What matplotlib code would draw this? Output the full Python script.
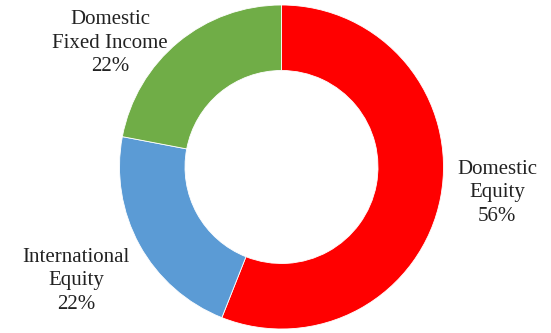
import matplotlib.pyplot as plt

labels = ['Domestic\nEquity', 'International\nEquity', 'Domestic\nFixed Income']
shares = [56, 22, 22]
colors = ['#FF0000', '#5B9BD5', '#70AD47']

plt.rcParams['font.family'] = ['Liberation Serif', 'DejaVu Serif']

W, H = 551, 333
fig = plt.figure(figsize=(W / 100, H / 100), dpi=100)
ax = fig.add_axes([0, 0, 1, 1])

ax.pie(shares, colors=colors, startangle=90, counterclock=False,
       center=(281.5, H - 167), radius=162,
       wedgeprops=dict(width=65.5, edgecolor='white', linewidth=0.6))

# pie() resets limits, so set them afterwards
ax.set_xlim(0, W)
ax.set_ylim(0, H)
ax.set_aspect('equal')
ax.axis('off')

# label positions (pixel coords, top-left origin)
label_pos = [(497, 193), (76, 281), (110, 43)]
for lab, val, (x, y) in zip(labels, shares, label_pos):
    ax.text(x, H - y, f"{lab}\n{val}%", ha='center', va='center',
            fontsize=15, linespacing=1.3, color='#222222')

fig.savefig('out.png', dpi=100)
